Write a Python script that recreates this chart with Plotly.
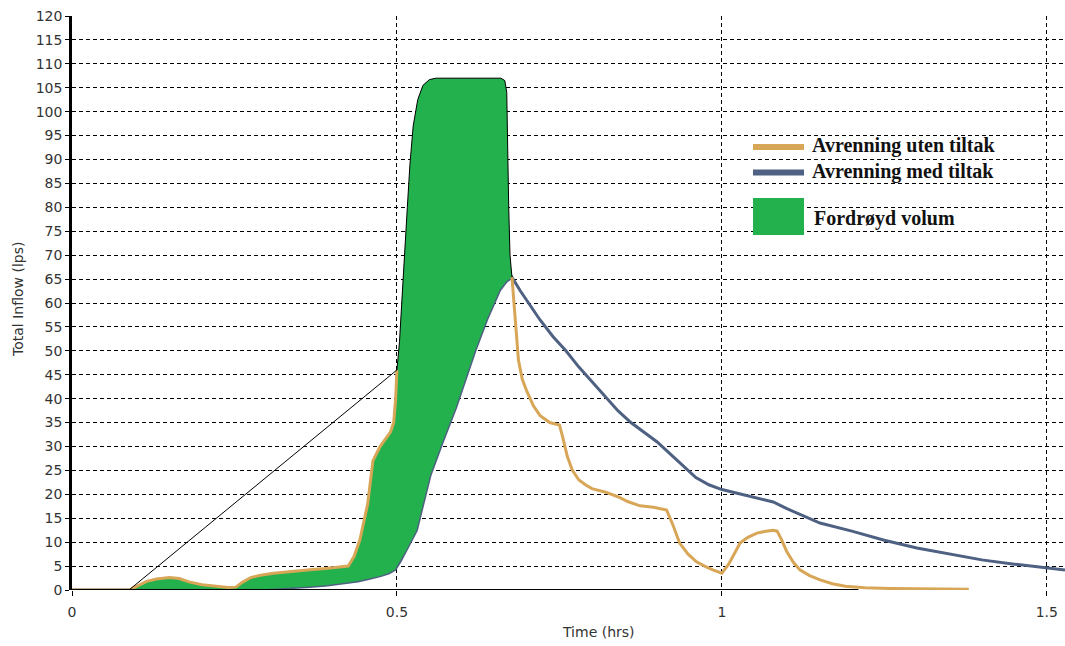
import plotly.graph_objects as go

# ---------------- data ----------------
# Avrenning uten tiltak (orange)
t_uten = [0.0, 0.088, 0.10, 0.115, 0.13, 0.15, 0.165, 0.18, 0.20, 0.22, 0.24, 0.252, 0.262, 0.275,
          0.29, 0.31, 0.33, 0.35, 0.37, 0.39, 0.412, 0.425, 0.434, 0.443, 0.455, 0.463, 0.474,
          0.483, 0.490, 0.495, 0.498, 0.500,
          0.677, 0.680, 0.683, 0.687, 0.693, 0.700, 0.710, 0.720, 0.735, 0.750, 0.755, 0.762,
          0.770, 0.780, 0.790, 0.800, 0.820, 0.840, 0.855, 0.874, 0.895, 0.915, 0.925, 0.935,
          0.948, 0.961, 0.975, 0.986, 1.000, 1.010, 1.020, 1.028, 1.040, 1.054, 1.068, 1.079,
          1.085, 1.092, 1.100, 1.110, 1.120, 1.135, 1.151, 1.170, 1.190, 1.220, 1.260, 1.300, 1.380]
v_uten = [0.0, 0.0, 0.8, 1.8, 2.3, 2.6, 2.4, 1.7, 1.1, 0.8, 0.5, 0.6, 1.6, 2.6,
          3.1, 3.5, 3.8, 4.0, 4.3, 4.5, 4.8, 5.0, 7.0, 10.5, 18.0, 27.0, 30.0,
          31.8, 33.0, 35.0, 40.0, 46.0,
          65.4, 60.0, 54.0, 48.0, 44.0, 41.5, 38.5, 36.5, 35.0, 34.5, 32.0, 28.0,
          25.0, 23.0, 22.0, 21.2, 20.5, 19.5, 18.5, 17.6, 17.3, 16.7, 13.5, 9.8,
          7.5, 5.9, 4.9, 4.2, 3.5, 5.3, 7.8, 9.8, 11.0, 11.9, 12.3, 12.5,
          12.3, 10.5, 8.0, 5.8, 4.2, 3.0, 2.1, 1.3, 0.8, 0.45, 0.3, 0.2, 0.15]

# Avrenning med tiltak (blue)
t_med = [0.0, 0.27, 0.30, 0.33, 0.36, 0.39, 0.42, 0.44, 0.46, 0.475, 0.488, 0.497, 0.505, 0.515,
         0.530, 0.540, 0.551, 0.570, 0.590, 0.605, 0.620, 0.638, 0.658, 0.668, 0.677,
         0.690, 0.700, 0.720, 0.740, 0.760, 0.780, 0.800, 0.820, 0.840, 0.860, 0.880, 0.900,
         0.920, 0.940, 0.960, 0.980, 1.000, 1.030, 1.060, 1.079, 1.100, 1.151, 1.200, 1.250,
         1.300, 1.350, 1.400, 1.450, 1.500, 1.528]
v_med = [0.0, 0.0, 0.2, 0.4, 0.7, 1.0, 1.5, 1.9, 2.5, 3.0, 3.6, 4.3, 6.0, 8.5,
         12.5, 18.0, 24.0, 31.0, 38.0, 44.0, 50.0, 56.5, 62.7, 64.5, 65.4,
         62.5, 60.5, 56.5, 53.0, 50.0, 46.6, 43.5, 40.5, 37.5, 35.0, 33.0, 31.0,
         28.5, 26.0, 23.5, 22.0, 21.0, 20.0, 19.0, 18.4, 17.0, 14.0, 12.3, 10.4,
         8.8, 7.5, 6.3, 5.4, 4.6, 4.2]

# Upper boundary of "Fordrøyd volum" between 0.5 h and the peak of the blue curve
t_peak = [0.500, 0.504, 0.508, 0.512, 0.516, 0.520, 0.525, 0.532, 0.540, 0.550, 0.560,
          0.660, 0.666, 0.669, 0.670, 0.672, 0.674, 0.677]
v_peak = [46.0, 52.0, 62.0, 70.0, 80.0, 89.0, 97.0, 102.5, 105.5, 106.7, 107.0,
          107.0, 106.5, 104.0, 95.0, 80.0, 70.0, 65.4]

# thin black construction line and base line
t_diag = [0.0877, 0.500]
v_diag = [0.0, 46.0]
t_base = [0.0, 1.21]
v_base = [0.0, 0.0]

legend_labels = ["Avrenning uten tiltak", "Avrenning med tiltak", "Fordrøyd volum"]

ORANGE = "#D8A657"
BLUE = "#4F6182"
GREEN = "#22B14C"

# ---------------- build ----------------
t_start, t_split, t_end = 0.088, 0.500, 0.677

# green polygon: orange from start to 0.5, peak outline, then blue back
up_t = [t for t in t_uten if t_start <= t < t_split]
up_v = [v for t, v in zip(t_uten, v_uten) if t_start <= t < t_split]
low = [(t, v) for t, v in zip(t_med, v_med) if t <= t_end]
low_t = [t_start] + [t for t, v in low if t > t_start]
low_v = [0.0] + [v for t, v in low if t > t_start]
poly_t = up_t + t_peak + low_t[::-1]
poly_v = up_v + v_peak + low_v[::-1]

# orange line with a gap where the green area covers it
or_t, or_v = [], []
gap_done = False
for t, v in zip(t_uten, v_uten):
    if t >= t_end and not gap_done:
        or_t.append(None)
        or_v.append(None)
        gap_done = True
    or_t.append(t)
    or_v.append(v)

fig = go.Figure()

fig.add_trace(go.Scatter(x=t_med, y=v_med, mode="lines",
                         line=dict(color=BLUE, width=3), showlegend=False, hoverinfo="skip"))
fig.add_trace(go.Scatter(x=poly_t, y=poly_v, mode="lines", fill="toself",
                         fillcolor=GREEN, line=dict(width=0, color=GREEN),
                         showlegend=False, hoverinfo="skip"))
fig.add_trace(go.Scatter(x=or_t, y=or_v, mode="lines", connectgaps=False,
                         line=dict(color=ORANGE, width=3), showlegend=False, hoverinfo="skip"))
fig.add_trace(go.Scatter(x=t_base, y=v_base, mode="lines",
                         line=dict(color="black", width=2), showlegend=False, hoverinfo="skip"))
fig.add_trace(go.Scatter(x=t_diag + t_peak[1:], y=v_diag + v_peak[1:], mode="lines",
                         line=dict(color="black", width=1), showlegend=False, hoverinfo="skip"))

# ---------------- legend (drawn manually) ----------------
L, T, W, H = 72, 16, 993, 574


def px(xp):
    return (xp - L) / W


def py(yp):
    return (T + H - yp) / H


fig.add_shape(type="line", xref="paper", yref="paper", x0=px(753), x1=px(804),
              y0=py(147), y1=py(147), line=dict(color=ORANGE, width=6))
fig.add_shape(type="line", xref="paper", yref="paper", x0=px(753), x1=px(804),
              y0=py(172.5), y1=py(172.5), line=dict(color=BLUE, width=6))
fig.add_shape(type="rect", xref="paper", yref="paper", x0=px(753), x1=px(804),
              y0=py(235), y1=py(198), line=dict(width=0), fillcolor=GREEN)

leg_font = dict(family="Liberation Serif", size=20, color="#111")
for label, xx, yy in zip(legend_labels, [810, 810, 812], [145, 171, 218]):
    fig.add_annotation(text="<b>%s</b>" % label, xref="paper", yref="paper",
                       x=px(xx), y=py(yy), xanchor="left", yanchor="middle",
                       showarrow=False, font=leg_font)

# axis titles
axis_font = dict(family="DejaVu Sans", size=14, color="#333")
fig.add_annotation(text="Total Inflow (lps)", xref="paper", yref="paper",
                   x=px(18), y=py(300), xanchor="center", yanchor="middle",
                   textangle=-90, showarrow=False, font=axis_font)
fig.add_annotation(text="Time (hrs)", xref="paper", yref="paper",
                   x=px(598), y=py(632), xanchor="center", yanchor="middle",
                   showarrow=False, font=axis_font)

fig.update_layout(
    width=1065, height=646,
    margin=dict(l=L, r=0, t=T, b=646 - T - H, pad=0),
    paper_bgcolor="white", plot_bgcolor="white",
    showlegend=False,
    xaxis=dict(range=[0, 1.528], dtick=0.5, tick0=0, showgrid=True, gridcolor="black",
               gridwidth=1, griddash="4px,3px", zeroline=False, showline=False,
               ticks="outside", ticklen=5, tickcolor="black", tickwidth=1,
               tickfont=axis_font, ticklabelstandoff=4),
    yaxis=dict(range=[0, 120], dtick=5, tick0=0, showgrid=True, gridcolor="black",
               gridwidth=1, griddash="4px,3px", zeroline=True, zerolinecolor="white",
               zerolinewidth=2, showline=True, linecolor="black", linewidth=2.5,
               ticks="outside", ticklen=4, tickcolor="black", tickwidth=1,
               tickfont=axis_font),
)

fig.write_html("out.html", config={"displayModeBar": False},
               post_script="document.body.style.margin='0';")
